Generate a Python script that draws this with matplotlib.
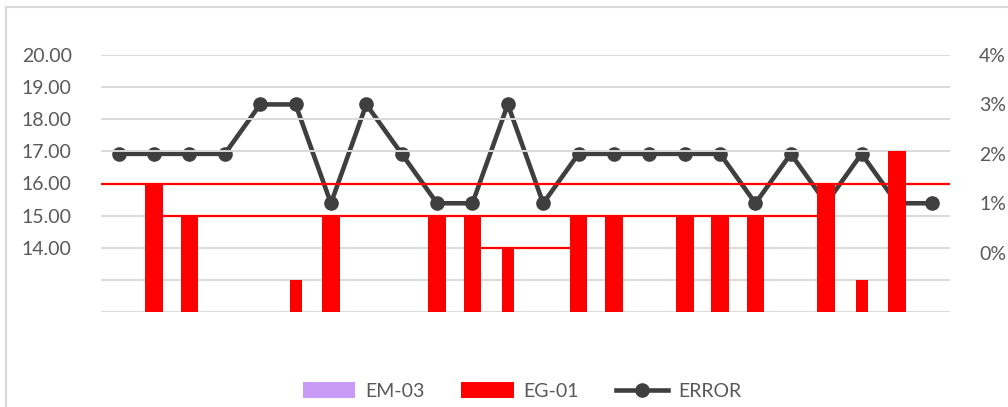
import matplotlib
matplotlib.use("Agg")
import matplotlib.pyplot as plt
import numpy as np
from matplotlib.lines import Line2D
from matplotlib.patches import Patch

plt.rcParams["font.family"] = ["Lato", "DejaVu Sans"]

# 24 measurement points
n_points = 24

# EG-01 readings (left axis); None = no reading
eg01 = [None, 16, 15, None, None, 13, 15, None, None, 15, 15, 14,
        None, 15, 15, None, 15, 15, 15, None, 16, 13, 17, None]

# EM-03 readings (left axis); no values recorded
em03 = [None] * n_points

# ERROR in percent (right axis)
error_pct = [2, 2, 2, 2, 3, 3, 1, 3, 2, 1, 1, 3,
             1, 2, 2, 2, 2, 2, 1, 2, 1, 2, 1, 1]

# Reference levels and the span of points (first, last index) each covers
ref_levels = [16, 15, 14]
ref_first = [None, 2, 11]
ref_last = [None, 19, 12]

left_ticks = [20, 19, 18, 17, 16, 15, 14]
left_labels = ["20.00", "19.00", "18.00", "17.00", "16.00", "15.00", "14.00"]
right_ticks = [4, 3, 2, 1, 0]
right_labels = ["4%", "3%", "2%", "1%", "0%"]

W, H = 1008, 407
fig = plt.figure(figsize=(W / 100, H / 100), dpi=100)
ax = fig.add_axes([101 / W, 1 - 312 / H, (950 - 101) / W, (312 - 55) / H])
ax2 = ax.twinx()

x = np.arange(n_points)
ymin, ymax = 12, 20
ax.set_xlim(-0.5, n_points - 0.5)
ax.set_ylim(ymin, ymax)
ax2.set_ylim(-1.2, 4.0)

grid_c = "#d9d9d9"
text_c = "#595959"
red = "#ff0000"
dark = "#3f3f3f"

# gridlines
for g in range(ymin, ymax + 1):
    ax.axhline(g, color=grid_c, lw=1.4, zorder=0)

# ERROR line sits below the bars
ax2.plot(x, error_pct, color=dark, lw=3.3, marker="o", ms=9.5,
         solid_capstyle="round", zorder=2)
ax2.set_zorder(1)
ax.set_zorder(2)
ax.patch.set_visible(False)

# EG-01 bars, slimmer for the low readings
for xi, v in zip(x, eg01):
    if v is None:
        continue
    w = 0.34 if v <= 14 else 0.5
    ax.bar(xi, v - ymin, bottom=ymin, width=w, color=red, zorder=3)

# reference lines
for lvl, a, b in zip(ref_levels, ref_first, ref_last):
    if a is None:
        x0, x1 = -0.5, n_points - 0.5
    else:
        x0, x1 = a - 0.75, b + 0.75
    ax.plot([x0, x1], [lvl, lvl], color=red, lw=1.6, zorder=3,
            solid_capstyle="butt")

for a in (ax, ax2):
    for s in a.spines.values():
        s.set_visible(False)
    a.set_xticks([])

ax.set_yticks(left_ticks)
ax.set_yticklabels(left_labels)
ax.tick_params(axis="y", length=0, pad=21, labelsize=14, labelcolor=text_c)
ax2.set_yticks(right_ticks)
ax2.set_yticklabels(right_labels)
ax2.tick_params(axis="y", length=0, pad=21, labelsize=14, labelcolor=text_c)

# legend
handles = [
    Patch(facecolor="#c99bf7", edgecolor="none", label="EM-03"),
    Patch(facecolor=red, edgecolor="none", label="EG-01"),
    Line2D([0], [0], color=dark, lw=3.3, marker="o", ms=9.5, label="ERROR"),
]
fig.legend(handles=handles, loc="center", bbox_to_anchor=(522 / W, 1 - 391 / H),
           ncol=3, frameon=False, fontsize=14, labelcolor=text_c,
           handlelength=2.7, handleheight=0.9, columnspacing=1.9, handletextpad=0.5)

# chart border
bc = "#d9d9d9"
fig.add_artist(Line2D([6 / W, 6 / W], [0, 1 - 7 / H], color=bc, lw=1.5,
                      transform=fig.transFigure))
fig.add_artist(Line2D([6 / W, 1], [1 - 7 / H, 1 - 7 / H], color=bc, lw=1.5,
                      transform=fig.transFigure))

fig.savefig("out.png", dpi=100, facecolor="white")
